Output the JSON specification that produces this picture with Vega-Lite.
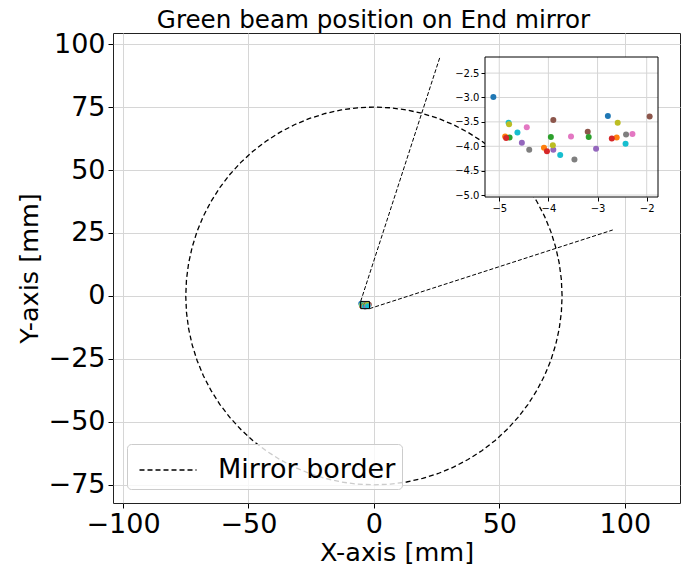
{
  "$schema": "https://vega.github.io/schema/vega-lite/v6.json",
  "width": 567,
  "height": 470,
  "autosize": {"type": "none"},
  "padding": {"left": 113, "top": 33, "right": 1, "bottom": 66},
  "title": {"text": "Green beam position on End mirror", "fontSize": 24.6, "fontWeight": "normal", "font": "DejaVu Sans", "color": "black", "offset": -4, "dx": -23},
  "config": {"view": {"stroke": "#222222", "strokeWidth": 1}, "font": "DejaVu Sans"},
  "datasets": {
    "circle": [
      {"i":0,"x":75,"y":0},{"i":1,"x":74.71,"y":6.54},{"i":2,"x":73.86,"y":13.02},{"i":3,"x":72.44,"y":19.41},{"i":4,"x":70.48,"y":25.65},{"i":5,"x":67.97,"y":31.7},{"i":6,"x":64.95,"y":37.5},{"i":7,"x":61.44,"y":43.02},{"i":8,"x":57.45,"y":48.21},{"i":9,"x":53.03,"y":53.03},{"i":10,"x":48.21,"y":57.45},{"i":11,"x":43.02,"y":61.44},{"i":12,"x":37.5,"y":64.95},{"i":13,"x":31.7,"y":67.97},{"i":14,"x":25.65,"y":70.48},{"i":15,"x":19.41,"y":72.44},{"i":16,"x":13.02,"y":73.86},{"i":17,"x":6.54,"y":74.71},{"i":18,"x":0,"y":75},
      {"i":19,"x":-6.54,"y":74.71},{"i":20,"x":-13.02,"y":73.86},{"i":21,"x":-19.41,"y":72.44},{"i":22,"x":-25.65,"y":70.48},{"i":23,"x":-31.7,"y":67.97},{"i":24,"x":-37.5,"y":64.95},{"i":25,"x":-43.02,"y":61.44},{"i":26,"x":-48.21,"y":57.45},{"i":27,"x":-53.03,"y":53.03},{"i":28,"x":-57.45,"y":48.21},{"i":29,"x":-61.44,"y":43.02},{"i":30,"x":-64.95,"y":37.5},{"i":31,"x":-67.97,"y":31.7},{"i":32,"x":-70.48,"y":25.65},{"i":33,"x":-72.44,"y":19.41},{"i":34,"x":-73.86,"y":13.02},{"i":35,"x":-74.71,"y":6.54},{"i":36,"x":-75,"y":0},
      {"i":37,"x":-74.71,"y":-6.54},{"i":38,"x":-73.86,"y":-13.02},{"i":39,"x":-72.44,"y":-19.41},{"i":40,"x":-70.48,"y":-25.65},{"i":41,"x":-67.97,"y":-31.7},{"i":42,"x":-64.95,"y":-37.5},{"i":43,"x":-61.44,"y":-43.02},{"i":44,"x":-57.45,"y":-48.21},{"i":45,"x":-53.03,"y":-53.03},{"i":46,"x":-48.21,"y":-57.45},{"i":47,"x":-43.02,"y":-61.44},{"i":48,"x":-37.5,"y":-64.95},{"i":49,"x":-31.7,"y":-67.97},{"i":50,"x":-25.65,"y":-70.48},{"i":51,"x":-19.41,"y":-72.44},{"i":52,"x":-13.02,"y":-73.86},{"i":53,"x":-6.54,"y":-74.71},{"i":54,"x":0,"y":-75},
      {"i":55,"x":6.54,"y":-74.71},{"i":56,"x":13.02,"y":-73.86},{"i":57,"x":19.41,"y":-72.44},{"i":58,"x":25.65,"y":-70.48},{"i":59,"x":31.7,"y":-67.97},{"i":60,"x":37.5,"y":-64.95},{"i":61,"x":43.02,"y":-61.44},{"i":62,"x":48.21,"y":-57.45},{"i":63,"x":53.03,"y":-53.03},{"i":64,"x":57.45,"y":-48.21},{"i":65,"x":61.44,"y":-43.02},{"i":66,"x":64.95,"y":-37.5},{"i":67,"x":67.97,"y":-31.7},{"i":68,"x":70.48,"y":-25.65},{"i":69,"x":72.44,"y":-19.41},{"i":70,"x":73.86,"y":-13.02},{"i":71,"x":74.71,"y":-6.54},{"i":72,"x":75,"y":0}
    ],
    "pts": [
      {"x":-5.12,"y":-2.99,"c":"C0"},
      {"x":-4.88,"y":-3.8,"c":"C1"},
      {"x":-4.79,"y":-3.82,"c":"C2"},
      {"x":-4.86,"y":-3.83,"c":"C3"},
      {"x":-4.54,"y":-3.93,"c":"C4"},
      {"x":-3.9,"y":-3.46,"c":"C5"},
      {"x":-4.44,"y":-3.61,"c":"C6"},
      {"x":-4.39,"y":-4.07,"c":"C7"},
      {"x":-4.81,"y":-3.52,"c":"C9"},
      {"x":-4.8,"y":-3.55,"c":"C8"},
      {"x":-4.63,"y":-3.72,"c":"C9"},
      {"x":-2.79,"y":-3.38,"c":"C0"},
      {"x":-4.09,"y":-4.03,"c":"C1"},
      {"x":-3.95,"y":-3.81,"c":"C2"},
      {"x":-4.03,"y":-4.1,"c":"C3"},
      {"x":-3.9,"y":-4.07,"c":"C4"},
      {"x":-3.2,"y":-3.7,"c":"C5"},
      {"x":-3.54,"y":-3.8,"c":"C6"},
      {"x":-3.47,"y":-4.27,"c":"C7"},
      {"x":-3.91,"y":-3.98,"c":"C8"},
      {"x":-3.76,"y":-4.18,"c":"C9"},
      {"x":-2.61,"y":-3.82,"c":"C1"},
      {"x":-3.18,"y":-3.81,"c":"C2"},
      {"x":-2.71,"y":-3.84,"c":"C3"},
      {"x":-3.03,"y":-4.05,"c":"C4"},
      {"x":-1.94,"y":-3.39,"c":"C5"},
      {"x":-2.29,"y":-3.75,"c":"C6"},
      {"x":-2.42,"y":-3.76,"c":"C7"},
      {"x":-2.59,"y":-3.52,"c":"C8"},
      {"x":-2.43,"y":-3.95,"c":"C9"}
    ]
  },
  "layer": [
    {
      "layer": [
        {
          "data": {"name": "circle"},
          "mark": {"type": "line", "color": "black", "strokeWidth": 1.3},
          "encoding": {
            "x": {"field": "x", "type": "quantitative", "scale": {"domain": [-104, 122], "nice": false, "zero": false},
              "axis": {"orient": "bottom", "values": [-100, -50, 0, 50, 100], "title": "X-axis [mm]", "labelFontSize": 27, "titleFontSize": 25.5, "titleFontWeight": "normal", "labelColor": "black", "titleColor": "black", "tickColor": "black", "domain": false, "gridColor": "#d6d6d6", "tickSize": 5, "labelPadding": 3, "titlePadding": 3, "labelFlush": false}},
            "y": {"field": "y", "type": "quantitative", "scale": {"domain": [-82.2, 104.4], "nice": false, "zero": false},
              "axis": {"orient": "left", "values": [-75, -50, -25, 0, 25, 50, 75, 100], "title": "Y-axis [mm]", "labelFontSize": 27, "titleFontSize": 25.5, "titleFontWeight": "normal", "labelColor": "black", "titleColor": "black", "tickColor": "black", "domain": false, "gridColor": "#d6d6d6", "tickSize": 5, "labelPadding": 3, "titlePadding": 6, "labelFlush": false}},
            "order": {"field": "i", "type": "quantitative"},
            "strokeDash": {"datum": "Mirror border", "type": "nominal", "scale": {"range": [[5, 3]]},
              "legend": {"orient": "bottom-left", "offset": 14, "title": null, "labelFontSize": 27, "labelLimit": 400, "labelColor": "black", "labelFont": "DejaVu Sans", "symbolType": "M-1.5,0H1.5", "symbolSize": 1444, "symbolOffset": 15, "symbolStrokeColor": "black", "symbolStrokeWidth": 1.3, "labelOffset": 30, "fillColor": "rgba(255,255,255,0.8)", "strokeColor": "#cccccc", "cornerRadius": 4, "padding": 6}}
          }
        },
        {
          "data": {"values": [{"x": -5.29, "y": -2.17, "x2": 26.3, "y2": 94.8}, {"x": -1.77, "y": -5.04, "x2": 95.2, "y2": 26.2}]},
          "mark": {"type": "rule", "color": "black", "strokeWidth": 1, "strokeDash": [4, 2]},
          "encoding": {"x": {"field": "x", "type": "quantitative"}, "y": {"field": "y", "type": "quantitative"}, "x2": {"field": "x2"}, "y2": {"field": "y2"}}
        },
        {
          "data": {"name": "pts"},
          "mark": {"type": "point", "filled": true, "opacity": 1, "size": 30},
          "encoding": {"x": {"field": "x", "type": "quantitative"}, "y": {"field": "y", "type": "quantitative"},
            "color": {"field": "c", "type": "nominal", "scale": {"domain": ["C0","C1","C2","C3","C4","C5","C6","C7","C8","C9"], "range": ["#1f77b4","#ff7f0e","#2ca02c","#d62728","#9467bd","#8c564b","#e377c2","#7f7f7f","#bcbd22","#17becf"]}, "legend": null}}
        },
        {
          "data": {"values": [{}]},
          "mark": {"type": "rect", "fillOpacity": 0, "stroke": "black", "strokeWidth": 1},
          "encoding": {"x": {"datum": -5.29, "type": "quantitative"}, "x2": {"datum": -1.77}, "y": {"datum": -5.04, "type": "quantitative"}, "y2": {"datum": -2.17}}
        }
      ]
    },
    {
      "layer": [
        {
          "data": {"values": [{}]},
          "mark": {"type": "rect", "fill": "white", "strokeWidth": 0},
          "encoding": {
            "x": {"datum": -5.29, "type": "quantitative", "scale": {"domain": [-5.29, -1.77], "range": [372, 545], "nice": false, "zero": false},
              "axis": {"orient": "bottom", "offset": -306, "values": [-5, -4, -3, -2], "format": "d", "grid": false, "domain": false, "title": null, "labelFontSize": 10, "labelColor": "black", "tickColor": "black", "tickSize": 4, "labelPadding": 2}},
            "x2": {"datum": -1.77},
            "y": {"datum": -5.04, "type": "quantitative", "scale": {"domain": [-5.04, -2.17], "range": [164, 24], "nice": false, "zero": false},
              "axis": {"orient": "left", "offset": -372, "values": [-5, -4.5, -4, -3.5, -3, -2.5], "format": ".1f", "grid": false, "domain": false, "title": null, "labelFontSize": 10, "labelColor": "black", "tickColor": "black", "tickSize": 4, "labelPadding": 2}},
            "y2": {"datum": -2.17}
          }
        },
        {
          "data": {"values": [{"x": -5}, {"x": -4}, {"x": -3}, {"x": -2}]},
          "mark": {"type": "rule", "color": "#d6d6d6", "strokeWidth": 1},
          "encoding": {"x": {"field": "x", "type": "quantitative"}, "y": {"datum": -5.04, "type": "quantitative"}, "y2": {"datum": -2.17}}
        },
        {
          "data": {"values": [{"y": -5}, {"y": -4.5}, {"y": -4}, {"y": -3.5}, {"y": -3}, {"y": -2.5}]},
          "mark": {"type": "rule", "color": "#d6d6d6", "strokeWidth": 1},
          "encoding": {"y": {"field": "y", "type": "quantitative"}, "x": {"datum": -5.29, "type": "quantitative"}, "x2": {"datum": -1.77}}
        },
        {
          "data": {"name": "pts"},
          "mark": {"type": "point", "filled": true, "opacity": 1, "size": 36},
          "encoding": {"x": {"field": "x", "type": "quantitative"}, "y": {"field": "y", "type": "quantitative"},
            "color": {"field": "c", "type": "nominal", "legend": null}}
        },
        {
          "data": {"values": [{}]},
          "mark": {"type": "rect", "fillOpacity": 0, "stroke": "black", "strokeWidth": 1},
          "encoding": {"x": {"datum": -5.29, "type": "quantitative"}, "x2": {"datum": -1.77}, "y": {"datum": -5.04, "type": "quantitative"}, "y2": {"datum": -2.17}}
        }
      ]
    }
  ],
  "resolve": {"scale": {"x": "independent", "y": "independent"}, "axis": {"x": "independent", "y": "independent"}}
}
